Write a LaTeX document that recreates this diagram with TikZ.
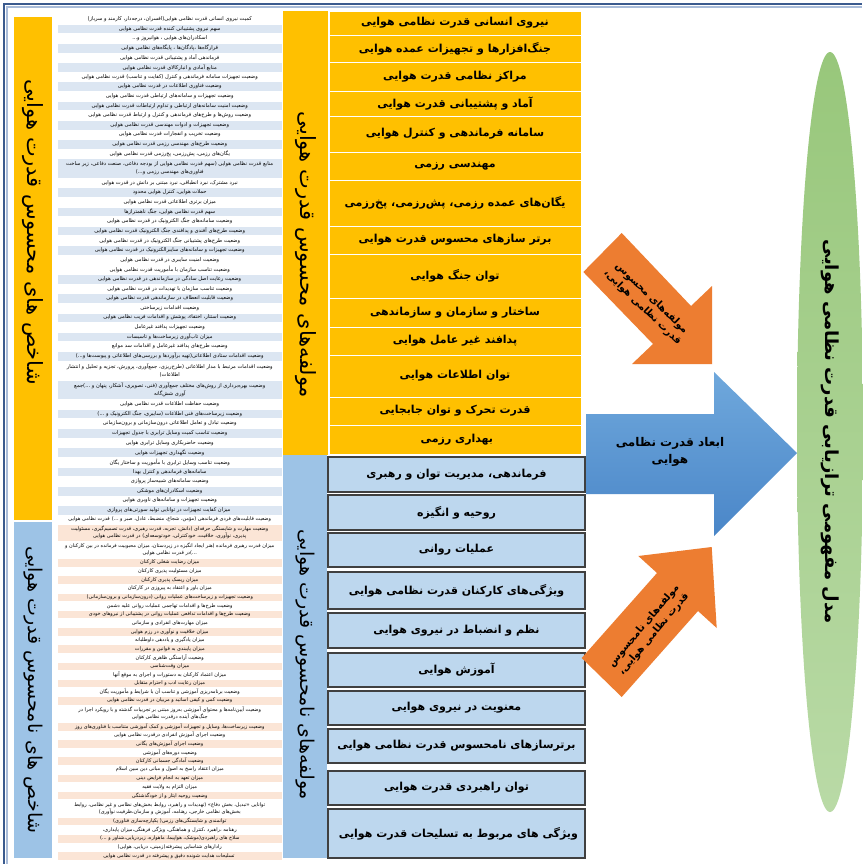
\documentclass[tikz,border=0pt]{standalone}
\usepackage{fontspec}
\usetikzlibrary{shapes.geometric}
\newfontfamily\fafont[Script=Arabic]{DejaVu Sans}
\TeXXeTstate=1
\newcommand\fa[1]{\beginR #1\endR}
\definecolor{gold}{HTML}{FFC000}
\definecolor{lblue}{HTML}{BDD7EE}
\definecolor{sblue}{HTML}{9DC3E6}
\definecolor{cW}{HTML}{FFFFFF}
\definecolor{cB}{HTML}{DCE6F2}
\definecolor{cP}{HTML}{FBE5D6}
\definecolor{orng}{HTML}{ED7D31}
\definecolor{arrTop}{HTML}{6FA8DC}
\definecolor{arrBot}{HTML}{4A86C8}
\definecolor{ellTop}{HTML}{98C77B}
\definecolor{ellBot}{HTML}{B9DAA6}
\definecolor{frameA}{HTML}{3B5B8F}
\definecolor{frameB}{HTML}{A9BCD9}
\definecolor{bdr}{HTML}{404040}
\tikzset{
  irow/.style={anchor=north west, minimum width=225pt, inner sep=0pt, draw=white, line width=0.5pt,
    align=center, font={\fafont\fontsize{5.2}{7.4}\selectfont}},
  irowb/.style={irow, font={\fafont\fontsize{5}{6.9}\selectfont}},
  ybox/.style={fill=gold, draw=white, line width=0.8pt, minimum width=252pt, inner sep=0pt,
    font={\fafont\bfseries\fontsize{11}{13}\selectfont}},
  bbox/.style={fill=lblue, draw=bdr, line width=1.1pt, minimum width=257pt, inner sep=0pt,
    font={\fafont\bfseries\fontsize{11}{13}\selectfont}},
  vlabel/.style={rotate=-90, inner sep=0pt, font={\fafont\fontsize{19}{22}\selectfont}},
  arrtext/.style={inner sep=0pt, align=center, font={\fafont\bfseries\fontsize{10}{13}\selectfont}},
}
\begin{document}
\begin{tikzpicture}[x=1pt,y=-1pt]
\useasboundingbox (0,0) rectangle (862,864);
\fill[white] (0,0) rectangle (862,864);
% frame
\draw[frameA, line width=1.2pt] (4,864) -- (4,4) -- (862,4);
\draw[frameB, line width=1.4pt] (7,864) -- (7,7) -- (862,7);

% left strips
\node[fill=gold, minimum width=38pt, minimum height=503pt, inner sep=0pt] (lstripA) at (33,268.5) {};
\node[vlabel, font={\fafont\fontsize{21}{24}\selectfont}] (llabelA) at (33,232) {\fa{شاخص های محسوس قدرت هوایی}};
\node[fill=sblue, minimum width=38pt, minimum height=336pt, inner sep=0pt] (lstripB) at (33,690) {};
\node[vlabel] (llabelB) at (33,690) {\fa{شاخص های نامحسوس قدرت هوایی}};

% indicator rows, tangible
\def\rowy{14}
\foreach \h/\c/\tx [count=\i] in {
1/cW/{\fa{کمیت نیروی انسانی قدرت نظامی هوایی(افسران، درجه‌دار، کارمند و سرباز)}},
1/cB/{\fa{سهم نیروی پشتیبانی کننده قدرت نظامی هوایی}},
1/cW/{\fa{اسکادران‌های هوایی ، هوانیروز و...}},
1/cB/{\fa{قرارگاه‌ها ،پادگان‌ها ، پایگاه‌های نظامی هوایی}},
1/cW/{\fa{فرماندهی آماد و پشتیبانی قدرت نظامی هوایی}},
1/cB/{\fa{منابع آمادی و انبارکالای قدرت نظامی هوایی}},
1/cW/{\fa{وضعیت تجهیزات سامانه فرماندهی و کنترل (کفایت و تناسب) قدرت نظامی هوایی}},
1/cB/{\fa{وضعیت فناوری اطلاعات در قدرت نظامی هوایی}},
1/cW/{\fa{وضعیت تجهیزات و سامانه‌های ارتباطی قدرت نظامی هوایی}},
1/cB/{\fa{وضعیت امنیت سامانه‌های ارتباطی و تداوم ارتباطات قدرت نظامی هوایی}},
1/cW/{\fa{وضعیت روش‌ها و طرح‌های فرماندهی و کنترل و ارتباط قدرت نظامی هوایی}},
1/cB/{\fa{وضعیت تجهیزات و ادوات مهندسی قدرت نظامی هوایی}},
1/cW/{\fa{وضعیت تخریب و انفجارات قدرت نظامی هوایی}},
1/cB/{\fa{وضعیت طرح‌های مهندسی رزمی قدرت نظامی هوایی}},
1/cW/{\fa{یگان‌های رزمی، پش‌رزمی، پخ‌رزمی قدرت نظامی هوایی}},
2/cB/{\fa{منابع قدرت نظامی هوایی (سهم قدرت نظامی هوایی از بودجه دفاعی، صنعت دفاعی، زیر ساخت}\\\fa{فناوری‌های مهندسی رزمی و...)}},
1/cW/{\fa{نبرد مشترک، نبرد انطباقی، نبرد مبتنی بر دانش در قدرت هوایی}},
1/cB/{\fa{حملات هوایی، کنترل هوایی محدود}},
1/cW/{\fa{میزان برتری اطلاعاتی قدرت نظامی هوایی}},
1/cB/{\fa{سهم قدرت نظامی هوایی، جنگ ناهمترازها}},
1/cW/{\fa{وضعیت سامانه‌های جنگ الکترونیک در قدرت نظامی هوایی}},
1/cB/{\fa{وضعیت طرح‌های آفندی و پدافندی جنگ الکترونیک قدرت نظامی هوایی}},
1/cW/{\fa{وضعیت طرح‌های پشتیبانی جنگ الکترونیک در قدرت نظامی هوایی}},
1/cB/{\fa{وضعیت تجهیزات و سامانه‌های سایبرالکترونیک در قدرت نظامی هوایی}},
1/cW/{\fa{وضعیت امنیت سایبری در قدرت نظامی هوایی}},
1/cW/{\fa{وضعیت تناسب سازمان با مأموریت قدرت نظامی هوایی}},
1/cB/{\fa{وضعیت رعایت اصل سادگی در سازماندهی در قدرت نظامی هوایی}},
1/cW/{\fa{وضعیت تناسب سازمان با تهدیدات در قدرت نظامی هوایی}},
1/cB/{\fa{وضعیت قابلیت انعطاف در سازماندهی قدرت نظامی هوایی}},
1/cW/{\fa{وضعیت اقدامات زیرساختی}},
1/cB/{\fa{وضعیت استتار، اختفاء، پوشش و اقدامات فریب نظامی هوایی}},
1/cW/{\fa{وضعیت تجهیزات پدافند غیرعامل}},
1/cB/{\fa{میزان تاب‌آوری زیرساخت‌ها و تاسیسات}},
1/cW/{\fa{وضعیت طرح‌های پدافند غیرعامل و اقدامات سد موانع}},
1/cB/{\fa{وضعیت اقدامات ستادی اطلاعاتی(تهیه برآوردها و بررسی‌های اطلاعاتی و پیوست‌ها و...)}},
2/cW/{\fa{وضعیت اقدامات مرتبط با مدار اطلاعاتی (طرح‌ریزی، جمع‌آوری، پرورش، تجزیه و تحلیل و انتشار}\\\fa{اطلاعات)}},
2/cB/{\fa{وضعیت بهره‌برداری از روش‌های مختلف جمع‌آوری (فنی، تصویری، آشکار، پنهان و ...)جمع}\\\fa{آوری شش‌گانه}},
1/cW/{\fa{وضعیت حفاظت اطلاعات قدرت نظامی هوایی}},
1/cB/{\fa{وضعیت زیرساخت‌های فنی اطلاعات (سایبری، جنگ الکترونیک و ...)}},
1/cW/{\fa{وضعیت تبادل و تعامل اطلاعاتی درون‌سازمانی و برون‌سازمانی}},
1/cB/{\fa{وضعیت تناسب کمیت وسایل ترابری با جدول تجهیزات}},
1/cW/{\fa{وضعیت حاضربکاری وسایل ترابری هوایی}},
1/cB/{\fa{وضعیت نگهداری تجهیزات هوایی}},
1/cW/{\fa{وضعیت تناسب وسایل ترابری با مأموریت و ساختار یگان}},
1/cB/{\fa{سامانه‌های فرماندهی و کنترل بهدا}},
1/cW/{\fa{وضعیت سامانه‌های شبیه‌ساز پروازی}},
1/cB/{\fa{وضعیت اسکادران‌های موشکی}},
1/cW/{\fa{وضعیت تجهیزات و سامانه‌های ناوبری هوایی}},
1/cB/{\fa{میزان کفایت تجهیزات در توانایی تولید سورتی‌های پروازی}}
}{
  \node[irow, fill=\c, minimum height={\h*9.63pt}] (r\i) at (57,\rowy) {\tx};
  \pgfmathsetmacro\ny{\rowy+\h*9.63}
  \global\let\rowy\ny
}

% indicator rows, intangible
\def\rowy{515}
\foreach \h/\c/\tx [count=\i] in {
1/cW/{\fa{وضعیت قابلیت‌های فردی فرماندهی (مؤمن، شجاع، منضبط، عادل، صبر و ...) قدرت نظامی هوایی}},
2/cP/{\fa{وضعیت مهارت و شایستگی حرفه‌ای (دانش، تجربه، قدرت رهبری، قدرت تصمیم‌گیری، مسئولیت‌}\\\fa{پذیری، نوآوری، خلاقیت، خودکنترلی، خودتوسعه‌ای) در قدرت نظامی هوایی}},
2/cW/{\fa{میزان قدرت رهبری فرمانده (هنر ایجاد انگیزه در زیردستان، میزان محبوبیت فرمانده در بین کارکنان و}\\\fa{...)در قدرت نظامی هوایی}},
1/cP/{\fa{میزان رضایت شغلی کارکنان}},
1/cW/{\fa{میزان مسئولیت پذیری کارکنان}},
1/cP/{\fa{میزان ریسک پذیری کارکنان}},
1/cW/{\fa{میزان باور و اعتقاد به پیروزی در کارکنان}},
1/cP/{\fa{وضعیت تجهیزات و زیرساخت‌های عملیات روانی (درون‌سازمانی و برون‌سازمانی)}},
1/cW/{\fa{وضعیت طرح‌ها و اقدامات تهاجمی عملیات روانی علیه دشمن}},
1/cP/{\fa{وضعیت طرح‌ها و اقدامات تدافعی عملیات روانی در پشتیبانی از نیروهای خودی}},
1/cW/{\fa{میزان مهارت‌های انفرادی و سازمانی}},
1/cP/{\fa{میزان خلاقیت و نوآوری در رزم هوایی}},
1/cW/{\fa{میزان یادگیری و یاددهی داوطلبانه}},
1/cP/{\fa{میزان پایبندی به قوانین و مقررات}},
1/cW/{\fa{وضعیت آراستگی ظاهری کارکنان}},
1/cP/{\fa{میزان وقت‌شناسی}},
1/cW/{\fa{میزان اعتماد کارکنان به دستورات و اجرای به موقع آنها}},
1/cP/{\fa{میزان رعایت ادب و احترام متقابل}},
1/cW/{\fa{وضعیت برنامه‌ریزی آموزشی و تناسب آن با شرایط و مأموریت یگان}},
1/cP/{\fa{وضعیت کمی و کیفی اساتید و مربیان در قدرت نظامی هوایی}},
2/cW/{\fa{وضعیت آیین‌نامه‌ها و محتوای آموزشی به‌روز مبتنی بر تجربیات گذشته و با رویکرد اجرا در}\\\fa{جنگ‌های آینده درقدرت نظامی هوایی}},
1/cP/{\fa{وضعیت زیرساخت‌ها، وسایل و تجهیزات آموزشی و کمک آموزشی متناسب با فناوری‌های روز}},
1/cW/{\fa{وضعیت اجرای آموزش انفرادی درقدرت نظامی هوایی}},
1/cP/{\fa{وضعیت اجرای آموزش‌های یگانی}},
1/cW/{\fa{وضعیت دوره‌های آموزشی}},
1/cP/{\fa{وضعیت آمادگی جسمانی کارکنان}},
1/cW/{\fa{میزان اعتقاد راسخ به اصول و مبانی دین مبین اسلام}},
1/cP/{\fa{میزان تعهد به انجام فرایض دینی}},
1/cW/{\fa{میزان التزام به ولایت فقیه}},
1/cP/{\fa{وضعیت روحیه ایثار و از خودگذشتگی}},
2/cW/{\fa{توانایی «تبدیل، بخش دفاع» (تهدیدات و راهبرد، روابط بخش‌های نظامی و غیر نظامی، روابط}\\\fa{بخش‌های نظامی خارجی، رهنامه، آموزش و سازمان،ظرفیت نوآوری)}},
1/cP/{\fa{توانمندی و شایستگی‌های رزمی( یکپارچه‌سازی فناوری)}},
1/cW/{\fa{رهنامه ،راهبرد ،کنترل و هماهنگی، ویژگی فرهنگی،میزان پایداری،}},
1/cP/{\fa{سلاح های راهبردی(موشک، هواپیما، ماهواره، زیردریایی،شناور و ...)}},
1/cW/{\fa{رادارهای شناسایی پیشرفته(زمینی، دریایی، هوایی)}},
1/cP/{\fa{تسلیحات هدایت شونده دقیق و پیشرفته در قدرت نظامی هوایی}}
}{
  \node[irowb, fill=\c, minimum height={\h*8.62pt}] (s\i) at (57,\rowy) {\tx};
  \pgfmathsetmacro\ny{\rowy+\h*8.62}
  \global\let\rowy\ny
}

% middle strips
\node[fill=gold, minimum width=45pt, minimum height=444pt, inner sep=0pt] (mstripA) at (305.5,233) {};
\node[vlabel, font={\fafont\fontsize{21}{24}\selectfont}] (mlabelA) at (305.5,255) {\fa{مولفه‌های محسوس قدرت هوایی}};
\node[fill=sblue, minimum width=44pt, minimum height=403pt, inner sep=0pt] (mstripB) at (305,656.5) {};
\node[vlabel] (mlabelB) at (305,665) {\fa{مولفه‌های نامحسوس قدرت هوایی}};

% tangible components
\foreach \ya/\yb/\tx [count=\i] in {
11/35/{نیروی انسانی قدرت نظامی هوایی},
35/62/{جنگ‌افزارها و تجهیزات عمده هوایی},
62/91/{مراکز نظامی قدرت هوایی},
91/116/{آماد و پشتیبانی قدرت هوایی},
116/152/{سامانه فرماندهی و کنترل هوایی},
152/180/{مهندسی رزمی},
180/226/{یگان‌های عمده رزمی، پش‌رزمی، پخ‌رزمی},
226/254/{برتر سازهای محسوس قدرت هوایی},
254/298/{توان جنگ هوایی},
298/327/{ساختار و سازمان و سازماندهی},
327/355/{پدافند غیر عامل هوایی},
355/397/{توان اطلاعات هوایی},
397/425/{قدرت تحرک و توان جابجایی},
425/454/{بهداری رزمی}
}{
  \node[ybox, minimum height={(\yb-\ya)*1pt}] (y\i) at (455,{(\ya+\yb)/2}) {\fa{\tx}};
}

% intangible components
\foreach \ya/\yb/\tx [count=\i] in {
457/492/{فرماندهی، مدیریت توان و رهبری},
495/530/{روحیه و انگیزه},
533/567/{عملیات روانی},
572/609/{ویژگی‌های کارکنان قدرت نظامی هوایی},
613/648/{نظم و انضباط در نیروی هوایی},
653/687/{آموزش هوایی},
691/725/{معنویت در نیروی هوایی},
729/763/{برترسازهای نامحسوس قدرت نظامی هوایی},
771/805/{توان راهبردی قدرت هوایی},
809/858/{ویژگی های مربوط به تسلیحات قدرت هوایی}
}{
  \node[bbox, minimum height={(\yb-\ya)*1pt}] (b\i) at (456.5,{(\ya+\yb)/2}) {\fa{\tx}};
}

% orange arrows
\fill[orng] (621.7,233) -- (691,306) -- (712,286) -- (712,364) -- (632,364) -- (653,344) -- (583.3,272) -- cycle;
\node[arrtext, rotate=-44] (oa) at (647,303) {\fa{مولفه‌های محسوس}\\\fa{قدرت نظامی هوایی،}};
\fill[orng] (581.7,658) -- (657,573) -- (638.3,556) -- (711.7,547) -- (716.7,628) -- (698,611) -- (621.7,697) -- cycle;
\node[arrtext, rotate=50] (ob) at (649,630) {\fa{مولفه‌های نامحسوس}\\\fa{قدرت نظامی هوایی،}};

% blue arrow
\shade[top color=arrTop, bottom color=arrBot] (586,414) -- (714,414) -- (714,372) -- (797,453) -- (714,536) -- (714,494) -- (586,494) -- cycle;
\node[arrtext, font={\fafont\bfseries\fontsize{12}{17}\selectfont}] (ba) at (670,452) {\fa{ابعاد قدرت نظامی}\\\fa{هوایی}};

% ellipse
\node[ellipse, top color=ellTop, bottom color=ellBot, minimum width=66pt, minimum height=760pt, inner sep=0pt] (model) at (830,432) {};
\node[rotate=-90, inner sep=0pt, font={\fafont\bfseries\fontsize{18}{22}\selectfont}] (mtext) at (model.center) {\fa{مدل مفهومی ترازیابی قدرت نظامی هوایی}};
\end{tikzpicture}
\end{document}
